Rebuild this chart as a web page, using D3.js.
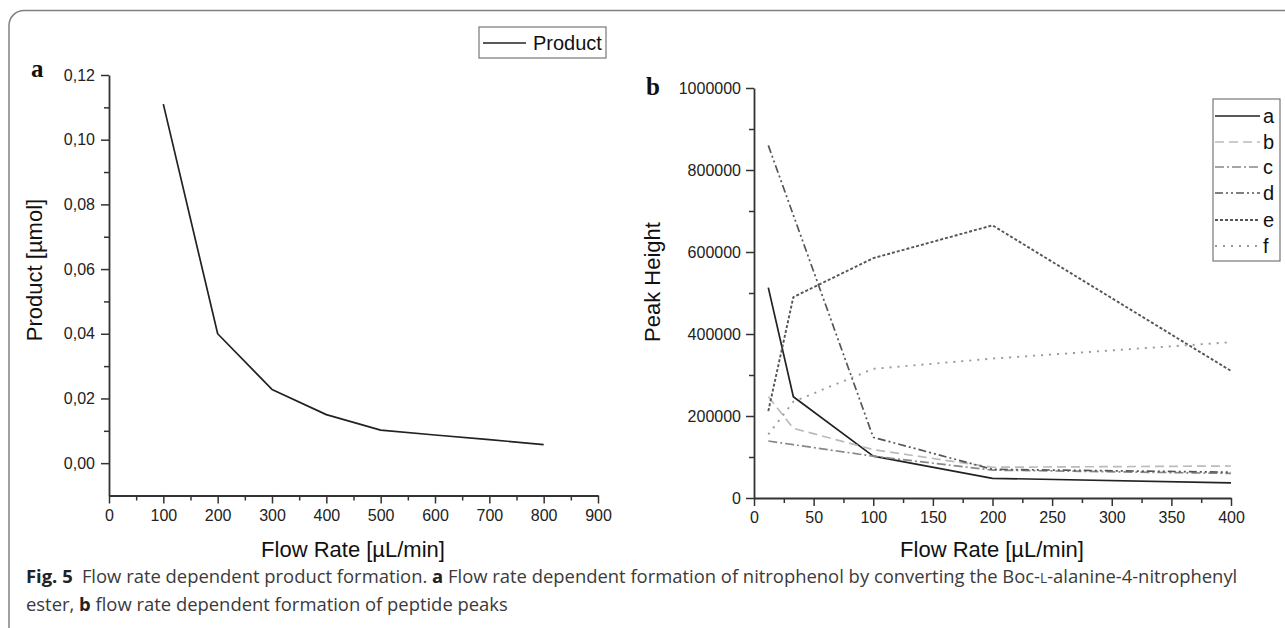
<!DOCTYPE html>
<html>
<head>
<meta charset="utf-8">
<script src="https://cdn.jsdelivr.net/npm/d3@7/dist/d3.min.js"></script>
<style>
  html, body { margin: 0; padding: 0; background: #fff; }
  svg { display: block; }
</style>
</head>
<body>
<svg id="chart" width="1285" height="628"></svg>
<script>
// ---------- data ----------
const flowA = [100, 200, 300, 400, 500, 600, 700, 800];
const productA = [0.111, 0.040, 0.0228, 0.0150, 0.0102, 0.0087, 0.0073, 0.0057];

const flowB = [12, 33, 100, 200, 400];
const peakA = [513000, 247000, 102000, 48000, 37000];
const peakB = [247000, 170000, 118000, 75000, 78000];
const peakC = [139000, 130000, 102000, 68000, 60000];
const peakD = [860000, 690000, 148000, 70000, 63000];
const peakE = [212000, 490000, 585000, 665000, 310000];
const peakF = [155000, 235000, 315000, 340000, 380000];
const seriesNamesB = ["a", "b", "c", "d", "e", "f"];

const xTicksA = [0, 100, 200, 300, 400, 500, 600, 700, 800, 900];
const yTicksA = [0, 0.02, 0.04, 0.06, 0.08, 0.10, 0.12];
const xTicksB = [0, 50, 100, 150, 200, 250, 300, 350, 400];
const yTicksB = [0, 200000, 400000, 600000, 800000, 1000000];

// ---------- setup ----------
const svg = d3.select("#chart");
const FONT = "'Liberation Sans', Arial, sans-serif";
const AXIS_COLOR = "#333";

// outer frame
svg.append("rect")
  .attr("x", 9).attr("y", 10.5)
  .attr("width", 1320).attr("height", 650)
  .attr("rx", 15).attr("ry", 15)
  .attr("fill", "none").attr("stroke", "#808080").attr("stroke-width", 1.5);

function styleAxis(g) {
  g.select(".domain").attr("stroke", AXIS_COLOR).attr("stroke-width", 1.8);
  g.selectAll(".tick line").attr("stroke", AXIS_COLOR).attr("stroke-width", 1.5);
  g.selectAll(".tick text").attr("fill", "#222")
    .style("font-family", FONT).style("font-size", "16px");
}

// ---------- panel a ----------
const xA = d3.scaleLinear().domain([0, 900]).range([109, 598]);
const yA = d3.scaleLinear().domain([-0.01, 0.12]).range([495.5, 75]);

const fmtComma = v => d3.format(".2f")(v).replace(".", ",");

const minorXA = d3.range(50, 900, 100);
const minorYA = d3.range(0.01, 0.12, 0.02);

svg.append("g").attr("transform", `translate(0,${yA.range()[0]})`)
  .call(d3.axisBottom(xA).tickValues(minorXA).tickSize(5).tickSizeOuter(0).tickFormat(""))
  .call(g => g.select(".domain").remove())
  .call(styleAxis);
svg.append("g").attr("transform", `translate(${xA.range()[0]},0)`)
  .call(d3.axisLeft(yA).tickValues(minorYA).tickSize(5).tickSizeOuter(0).tickFormat(""))
  .call(g => g.select(".domain").remove())
  .call(styleAxis);

svg.append("g").attr("transform", `translate(0,${yA.range()[0]})`)
  .call(d3.axisBottom(xA).tickValues(xTicksA).tickSize(8).tickSizeOuter(0).tickPadding(6).tickFormat(d3.format("d")))
  .call(styleAxis);
svg.append("g").attr("transform", `translate(${xA.range()[0]},0)`)
  .call(d3.axisLeft(yA).tickValues(yTicksA).tickSize(8).tickSizeOuter(0).tickPadding(6).tickFormat(fmtComma))
  .call(styleAxis);

const lineA = d3.line().x((d, i) => xA(flowA[i])).y(d => yA(d));
svg.append("path").datum(productA)
  .attr("d", lineA).attr("fill", "none")
  .attr("stroke", "#222").attr("stroke-width", 1.7).attr("stroke-linejoin", "round");

// labels a
svg.append("text").attr("x", 353).attr("y", 557).attr("text-anchor", "middle")
  .style("font-family", FONT).style("font-size", "22px").attr("fill", "#111")
  .text("Flow Rate [µL/min]");
svg.append("text").attr("transform", "translate(42,270) rotate(-90)").attr("text-anchor", "middle")
  .style("font-family", FONT).style("font-size", "22px").attr("fill", "#111")
  .text("Product [µmol]");
svg.append("text").attr("x", 31).attr("y", 77)
  .style("font-family", "'Liberation Serif', 'Times New Roman', serif").style("font-weight", "bold")
  .style("font-size", "25px").attr("fill", "#111").text("a");

// legend a
const legA = svg.append("g");
legA.append("rect").attr("x", 479).attr("y", 27).attr("width", 127).attr("height", 31)
  .attr("fill", "#fff").attr("stroke", "#777").attr("stroke-width", 1.2);
legA.append("line").attr("x1", 483).attr("x2", 526).attr("y1", 43).attr("y2", 43)
  .attr("stroke", "#222").attr("stroke-width", 1.6);
legA.append("text").attr("x", 533).attr("y", 50)
  .style("font-family", FONT).style("font-size", "20px").attr("fill", "#111").text("Product");

// ---------- panel b ----------
const xB = d3.scaleLinear().domain([0, 400]).range([754, 1231]);
const yB = d3.scaleLinear().domain([0, 1000000]).range([498, 88]);

const minorXB = d3.range(25, 400, 50);
const minorYB = d3.range(100000, 1000000, 200000);

svg.append("g").attr("transform", `translate(0,${yB.range()[0]})`)
  .call(d3.axisBottom(xB).tickValues(minorXB).tickSize(5).tickSizeOuter(0).tickFormat(""))
  .call(g => g.select(".domain").remove())
  .call(styleAxis);
svg.append("g").attr("transform", `translate(${xB.range()[0]},0)`)
  .call(d3.axisLeft(yB).tickValues(minorYB).tickSize(5).tickSizeOuter(0).tickFormat(""))
  .call(g => g.select(".domain").remove())
  .call(styleAxis);

svg.append("g").attr("transform", `translate(0,${yB.range()[0]})`)
  .call(d3.axisBottom(xB).tickValues(xTicksB).tickSize(8).tickSizeOuter(0).tickPadding(6).tickFormat(d3.format("d")))
  .call(styleAxis);
svg.append("g").attr("transform", `translate(${xB.range()[0]},0)`)
  .call(d3.axisLeft(yB).tickValues(yTicksB).tickSize(8).tickSizeOuter(0).tickPadding(5).tickFormat(d3.format("d")))
  .call(styleAxis);

const seriesB = [peakA, peakB, peakC, peakD, peakE, peakF];
const stylesB = [
  { color: "#222", dash: null, w: 1.7 },
  { color: "#bbb", dash: "9,5", w: 1.7 },
  { color: "#888", dash: "9,3,2,3", w: 1.7 },
  { color: "#555", dash: "8,3,2,3,2,3", w: 1.7 },
  { color: "#555", dash: "3,2", w: 1.9 },
  { color: "#999", dash: "2,6", w: 1.9 }
];
const lineB = d3.line().x((d, i) => xB(flowB[i])).y(d => yB(d));

seriesB.forEach((vals, k) => {
  const s = stylesB[k];
  svg.append("path").datum(vals)
    .attr("d", lineB).attr("fill", "none")
    .attr("stroke", s.color).attr("stroke-width", s.w)
    .attr("stroke-dasharray", s.dash)
    .attr("stroke-linejoin", "round");
});

// labels b
svg.append("text").attr("x", 992).attr("y", 557).attr("text-anchor", "middle")
  .style("font-family", FONT).style("font-size", "22px").attr("fill", "#111")
  .text("Flow Rate [µL/min]");
svg.append("text").attr("transform", "translate(660,282) rotate(-90)").attr("text-anchor", "middle")
  .style("font-family", FONT).style("font-size", "22px").attr("fill", "#111")
  .text("Peak Height");
svg.append("text").attr("x", 646).attr("y", 95)
  .style("font-family", "'Liberation Serif', 'Times New Roman', serif").style("font-weight", "bold")
  .style("font-size", "25px").attr("fill", "#111").text("b");

// legend b
const legB = svg.append("g");
legB.append("rect").attr("x", 1213).attr("y", 99).attr("width", 67).attr("height", 162)
  .attr("fill", "#fff").attr("stroke", "#777").attr("stroke-width", 1.2);
const legYs = [116, 142, 167, 193, 220, 246];
seriesNamesB.forEach((name, k) => {
  const s = stylesB[k];
  legB.append("line").attr("x1", 1215).attr("x2", 1260)
    .attr("y1", legYs[k]).attr("y2", legYs[k])
    .attr("stroke", s.color).attr("stroke-width", s.w)
    .attr("stroke-dasharray", s.dash);
  legB.append("text").attr("x", 1263).attr("y", legYs[k] + 7)
    .style("font-family", FONT).style("font-size", "20px").attr("fill", "#111").text(name);
});

// ---------- caption ----------
const CAP_FONT = "'Open Sans', 'Noto Sans', sans-serif";
const cap1 = svg.append("text").attr("x", 26).attr("y", 583)
  .style("font-family", CAP_FONT).style("font-size", "17px").attr("fill", "#3a3a3a");
cap1.append("tspan").style("font-weight", "bold").attr("fill", "#222").text("Fig. 5");
cap1.append("tspan").text("\u2002Flow rate dependent product formation. ");
cap1.append("tspan").style("font-weight", "bold").attr("fill", "#222").text("a");
cap1.append("tspan").text(" Flow rate dependent formation of nitrophenol by converting the Boc-");
cap1.append("tspan").attr("class", "sc").text("L");
cap1.append("tspan").text("-alanine-4-nitrophenyl");

const cap2 = svg.append("text").attr("x", 26).attr("y", 611)
  .style("font-family", CAP_FONT).style("font-size", "17px").attr("fill", "#3a3a3a");
cap2.append("tspan").text("ester, ");
cap2.append("tspan").style("font-weight", "bold").attr("fill", "#222").text("b");
cap2.append("tspan").text(" flow rate dependent formation of peptide peaks");

// fit caption line 1 to its width in the reference
const target = 1215;
const w1 = cap1.node().getComputedTextLength();
if (w1 > 0) {
  const fs = 17 * target / w1;
  cap1.style("font-size", fs + "px");
  cap1.selectAll("tspan.sc").style("font-size", (fs * 0.74) + "px");
  cap2.style("font-size", fs + "px");
}
</script>
</body>
</html>
